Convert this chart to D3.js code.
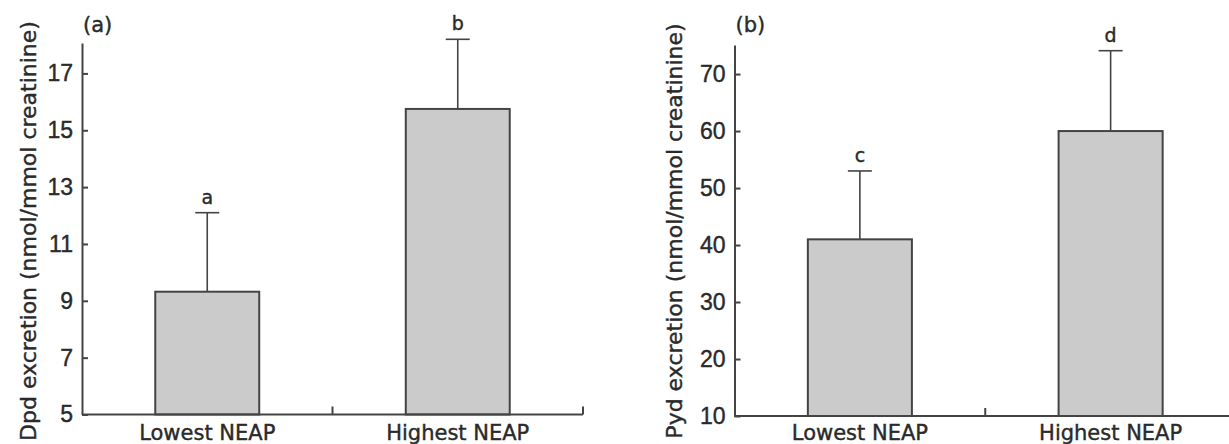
<!DOCTYPE html>
<html>
<head>
<meta charset="utf-8">
<script src="https://cdn.jsdelivr.net/npm/d3@7"></script>
<style>
  body { margin: 0; background: #fff; }
  svg { display: block; font-family: "DejaVu Sans", sans-serif; }
  .axis path, .axis line { stroke: #444; stroke-width: 2px; }
  text { fill: #2a2a2a; stroke: #2a2a2a; stroke-width: 0.4px; }
  .tick text { font-family: "Liberation Sans", Arial, sans-serif; }
</style>
</head>
<body>
<svg id="chart" width="1229" height="444"></svg>
<script>
// groups on the x axis (same for both panels)
var groups = ["Lowest NEAP", "Highest NEAP"];

// panel (a): Dpd excretion, mean and SD
var dpdMean = [9.32, 15.75];
var dpdSD = [2.78, 2.45];
var dpdLetters = ["a", "b"];
var dpdTicks = [5, 7, 9, 11, 13, 15, 17];

// panel (b): Pyd excretion, mean and SD
var pydMean = [41, 60];
var pydSD = [12, 14.1];
var pydLetters = ["c", "d"];
var pydTicks = [10, 20, 30, 40, 50, 60, 70];

let svg = d3.select("#chart");

let drawPanel = (opt) => {
    var g = svg.append("g");

    let x = d3.scaleBand()
        .domain(groups)
        .range([opt.left, opt.right]);

    let y = d3.scaleLinear()
        .domain(opt.domain)
        .range([opt.bottom, opt.top]);

    // y axis, ticks pointing inward
    let yAxis = d3.axisLeft(y)
        .tickValues(opt.ticks)
        .tickSizeInner(-6)
        .tickSizeOuter(0)
        .tickPadding(9);

    let ya = g.append("g")
        .attr("class", "axis")
        .attr("transform", "translate(" + opt.left + ",0)")
        .call(yAxis);
    ya.selectAll("text").style("font-size", "23px");

    // bars
    var rows = groups.map((name, i) => [name, opt.mean[i], opt.sd[i], opt.letters[i]]);
    var barW = x.bandwidth() * 0.415;

    g.selectAll(".bar")
        .data(rows)
        .enter().append("rect")
        .attr("class", "bar")
        .attr("x", d => x(d[0]) + x.bandwidth() / 2 - barW / 2)
        .attr("y", d => y(d[1]))
        .attr("width", barW)
        .attr("height", d => y(opt.domain[0]) - y(d[1]))
        .attr("fill", "#cbcbcb")
        .attr("stroke", "#444")
        .attr("stroke-width", 2);

    // error bars (upper only)
    g.selectAll(".err")
        .data(rows)
        .enter().append("line")
        .attr("x1", d => x(d[0]) + x.bandwidth() / 2)
        .attr("x2", d => x(d[0]) + x.bandwidth() / 2)
        .attr("y1", d => y(d[1]))
        .attr("y2", d => y(d[1] + d[2]))
        .attr("stroke", "#444")
        .attr("stroke-width", 1.6);

    g.selectAll(".cap")
        .data(rows)
        .enter().append("line")
        .attr("x1", d => x(d[0]) + x.bandwidth() / 2 - 12)
        .attr("x2", d => x(d[0]) + x.bandwidth() / 2 + 12)
        .attr("y1", d => y(d[1] + d[2]))
        .attr("y2", d => y(d[1] + d[2]))
        .attr("stroke", "#444")
        .attr("stroke-width", 1.6);

    g.selectAll(".sig")
        .data(rows)
        .enter().append("text")
        .attr("x", d => x(d[0]) + x.bandwidth() / 2)
        .attr("y", d => y(d[1] + d[2]) - 9)
        .attr("text-anchor", "middle")
        .style("font-size", "19px")
        .text(d => d[3]);

    // x axis: baseline, boundary ticks pointing up, group labels
    let xa = g.append("g").attr("class", "axis");
    xa.append("line")
        .attr("x1", opt.left).attr("x2", opt.right)
        .attr("y1", opt.bottom).attr("y2", opt.bottom);
    xa.selectAll(".bt")
        .data(groups)
        .enter().append("line")
        .attr("x1", d => x(d) + x.bandwidth())
        .attr("x2", d => x(d) + x.bandwidth())
        .attr("y1", opt.bottom)
        .attr("y2", opt.bottom - 8);
    xa.selectAll(".lbl")
        .data(groups)
        .enter().append("text")
        .attr("x", d => x(d) + x.bandwidth() / 2)
        .attr("y", 440)
        .attr("text-anchor", "middle")
        .style("font-size", "21px")
        .text(d => d);

    // axis title
    g.append("text")
        .attr("transform", "translate(" + (opt.left - opt.titleOffset) + "," + 231 + ") rotate(-90)")
        .attr("text-anchor", "middle")
        .style("font-size", "22px")
        .text(opt.title);

    // panel label
    g.append("text")
        .attr("x", opt.left + 1)
        .attr("y", 32)
        .style("font-size", "21px")
        .text(opt.panel);
};

drawPanel({
    left: 82, right: 583, top: 43, bottom: 414.5,
    domain: [5, 18.07], ticks: dpdTicks,
    mean: dpdMean, sd: dpdSD, letters: dpdLetters,
    title: "Dpd excretion (nmol/mmol creatinine)", titleOffset: 46,
    panel: "(a)"
});

drawPanel({
    left: 734.5, right: 1236, top: 45, bottom: 416,
    domain: [10, 75.1], ticks: pydTicks,
    mean: pydMean, sd: pydSD, letters: pydLetters,
    title: "Pyd excretion (nmol/mmol creatinine)", titleOffset: 53,
    panel: "(b)"
});
</script>
</body>
</html>
